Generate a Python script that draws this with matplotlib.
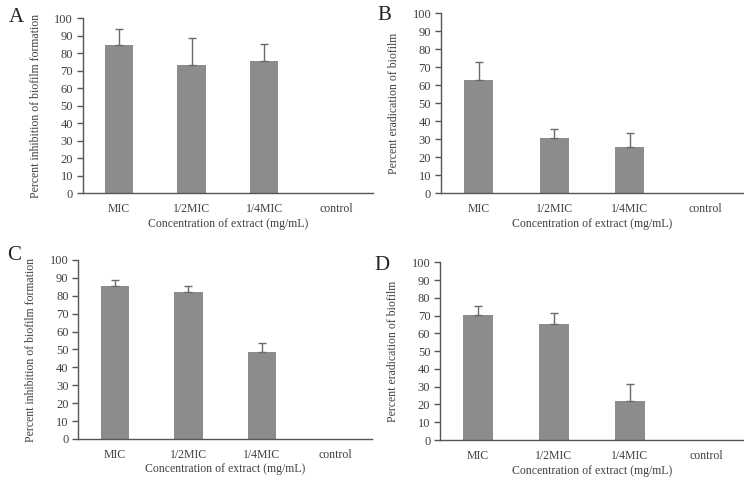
import matplotlib
matplotlib.use("Agg")
import matplotlib.pyplot as plt
import numpy as np

categories = ["MIC", "1/2MIC", "1/4MIC", "control"]

a_values = [85.0, 73.5, 75.5, 0]
a_err = [9.0, 15.5, 10.0, 0]
b_values = [63.0, 30.5, 25.5, 0]
b_err = [10.0, 5.0, 8.0, 0]
c_values = [85.5, 82.0, 48.5, 0]
c_err = [3.5, 3.5, 5.0, 0]
d_values = [70.5, 65.5, 22.0, 0]
d_err = [5.0, 6.0, 9.5, 0]

y_ticks = list(range(0, 101, 10))
xlabel = "Concentration of extract (mg/mL)"
ylabel_inhib = "Percent inhibition of biofilm formation"
ylabel_erad = "Percent eradication of biofilm"

plt.rcParams['font.family'] = ['Liberation Serif', 'DejaVu Serif']
TXT = '#404040'
BAR = '#8c8c8c'
SPINE = '#555555'

fig = plt.figure(figsize=(7.44, 4.83), dpi=100)

panels = [
    ("A", a_values, a_err, ylabel_inhib, [0.1112, 0.5998, 0.390, 0.3623], (16, 17)),
    ("B", b_values, b_err, ylabel_erad, [0.5927, 0.5998, 0.406, 0.3727], (384, 15)),
    ("C", c_values, c_err, ylabel_inhib, [0.1052, 0.0911, 0.3948, 0.3706], (14, 255)),
    ("D", d_values, d_err, ylabel_erad, [0.5914, 0.0890, 0.4086, 0.3679], (382, 265)),
]

for letter, vals, errs, ylab, rect, lpos in panels:
    ax = fig.add_axes(rect)
    x = np.arange(len(categories))
    ax.bar(x, vals, width=0.39, color=BAR, edgecolor='none', zorder=2)
    ax.errorbar(x[:3], vals[:3], yerr=[np.zeros(3), errs[:3]], fmt='none',
                ecolor='#6a6a6a', elinewidth=1.0, capsize=3, capthick=1.0, zorder=3)
    ax.set_xlim(-0.5, 3.5)
    ax.set_ylim(0, 100)
    ax.set_yticks(y_ticks)
    ax.set_xticks(x)
    ax.set_xticklabels(categories)
    for s in ['top', 'right']:
        ax.spines[s].set_visible(False)
    for s in ['left', 'bottom']:
        ax.spines[s].set_color(SPINE)
        ax.spines[s].set_linewidth(1.0)
    ax.tick_params(axis='y', direction='out', length=4, width=1.0, color=SPINE,
                   labelsize=9, labelcolor=TXT, pad=3)
    ax.tick_params(axis='x', length=0, labelsize=8.5, labelcolor=TXT, pad=7)
    ax.set_xlabel(xlabel, fontsize=8.5, color=TXT, labelpad=2)
    ax.set_ylabel(ylab, fontsize=8.5, color=TXT, labelpad=9)
    fig.text(lpos[0] / 744, 1 - lpos[1] / 483, letter, fontsize=15, color='#222222',
             ha='center', va='center')

fig.savefig("out.png", dpi=100)
